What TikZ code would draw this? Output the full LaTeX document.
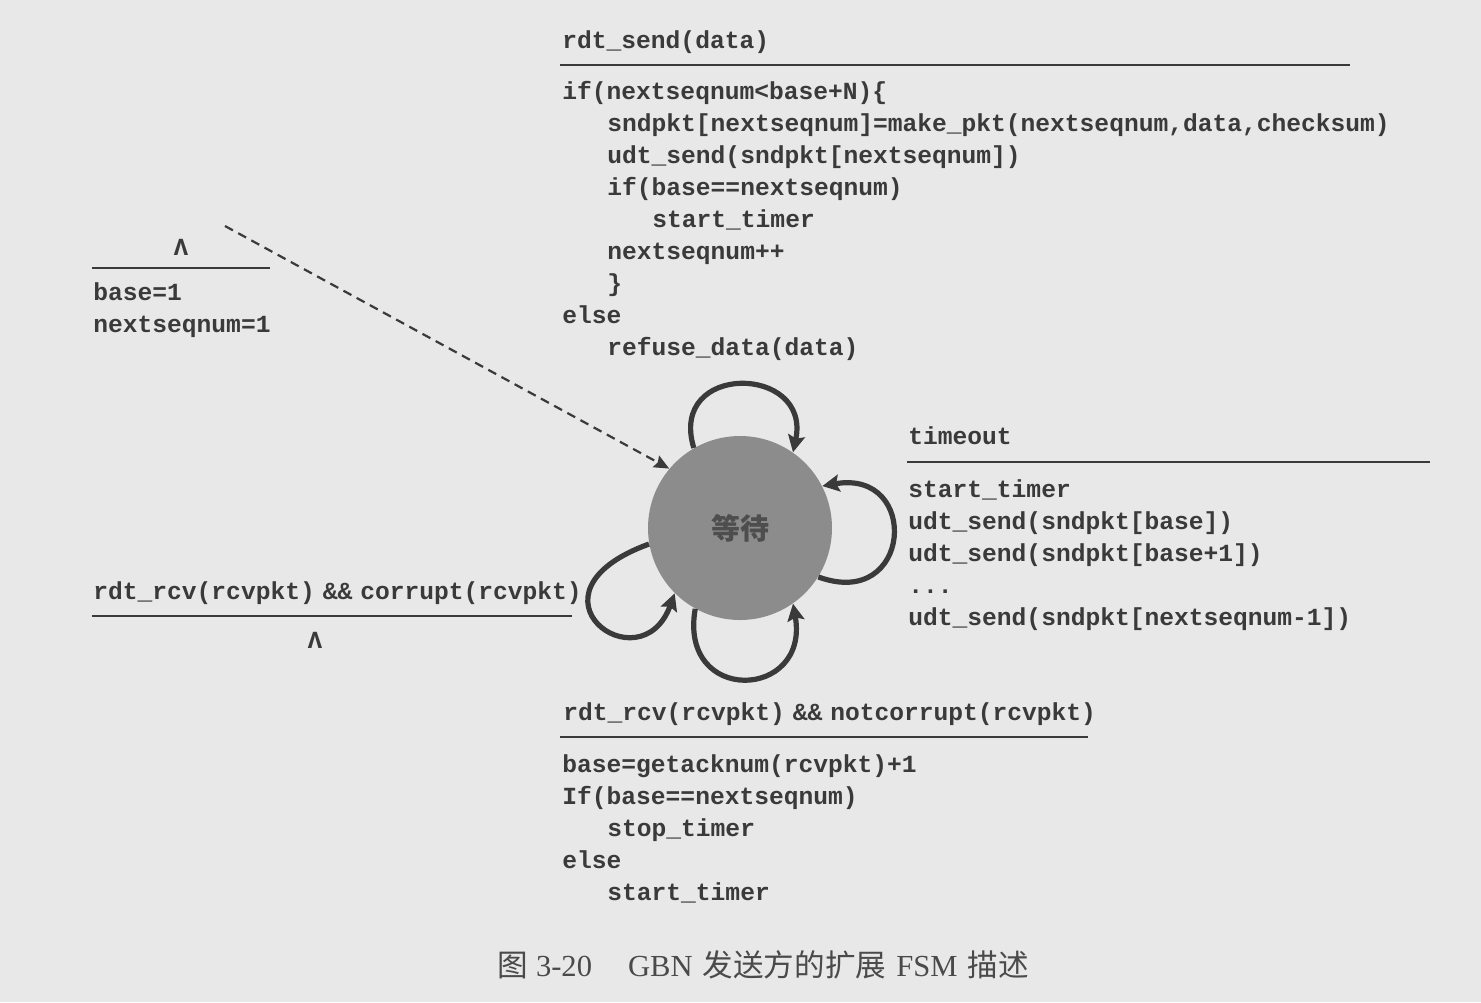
\documentclass[tikz,border=0pt]{standalone}
\usepackage{fontspec}
\usetikzlibrary{arrows.meta}
\newfontfamily\codefont{Liberation Mono}
\newfontfamily\cjk{Noto Sans CJK SC}
\newfontfamily\capserif{Liberation Serif}
\definecolor{paper}{HTML}{E8E8E8}
\definecolor{ink}{HTML}{3A3A3A}
\definecolor{statefill}{HTML}{8C8C8C}
\definecolor{captionink}{HTML}{4A4A4A}
\tikzset{
  code/.style={font=\codefont\bfseries\fontsize{12.3}{16}\selectfont, text=ink, inner sep=0pt, anchor=base west},
  lambda/.style={code, anchor=base},
  guard/.style={draw=ink, line width=1.4pt},
  selfloop/.style={draw=ink, line width=2.6pt, -{Stealth[length=8.5pt,width=8.5pt,inset=1.5pt]}},
  initarrow/.style={draw=ink, line width=1.1pt, dash pattern=on 4.5pt off 3pt, -{Stealth[length=7.5pt,width=6.5pt,inset=1pt]}}
}
\begin{document}
\begin{tikzpicture}[x=0.5pt,y=-0.5pt]
  \fill[paper] (0,0) rectangle (1481,1002);
  \useasboundingbox (0,0) rectangle (1481,1002);

  % the single state
  \node[circle, fill=statefill, minimum size=92pt, inner sep=0pt,
        font=\cjk\bfseries\fontsize{14.5}{16}\selectfont, text=ink!90] (w) at (740,528) {等待};

  % rdt_send(data)
  \node[code] (s0) at (562,48) {rdt\_send(data)};
  \draw[guard] (560,65) -- (1350,65);
  \node[code] (s1) at (562,99)  {if(nextseqnum<base+N)\{};
  \node[code] (s2) at (607,131) {sndpkt[nextseqnum]=make\_pkt(nextseqnum,data,checksum)};
  \node[code] (s3) at (607,163) {udt\_send(sndpkt[nextseqnum])};
  \node[code] (s4) at (607,195) {if(base==nextseqnum)};
  \node[code] (s5) at (652,227) {start\_timer};
  \node[code] (s6) at (607,259) {nextseqnum++};
  \node[code] (s7) at (607,291) {\}};
  \node[code] (s8) at (562,323) {else};
  \node[code] (s9) at (607,355) {refuse\_data(data)};

  % initial transition
  \node[lambda] (i0) at (181,255) {Λ};
  \draw[guard] (92,268) -- (270,268);
  \node[code] (i1) at (93,300) {base=1};
  \node[code] (i2) at (93,332) {nextseqnum=1};
  \coordinate (init) at (225,226);
  \draw[initarrow] (init) -- (w.140);

  % corrupt ACK
  \node[code] (c0) at (93,599) {rdt\_rcv(rcvpkt)\hspace{4pt}\&\&\hspace{4pt}corrupt(rcvpkt)};
  \draw[guard] (92,616) -- (572,616);
  \node[lambda] (c1) at (315,648) {Λ};

  % timeout
  \node[code] (t0) at (908,444) {timeout};
  \draw[guard] (907,462) -- (1430,462);
  \node[code] (t1) at (908,497) {start\_timer};
  \node[code] (t2) at (908,529) {udt\_send(sndpkt[base])};
  \node[code] (t3) at (908,561) {udt\_send(sndpkt[base+1])};
  \node[code] (t4) at (908,593) {...};
  \node[code] (t5) at (908,625) {udt\_send(sndpkt[nextseqnum-1])};

  % good ACK
  \node[code] (a0) at (563,720) {rdt\_rcv(rcvpkt)\hspace{4pt}\&\&\hspace{4pt}notcorrupt(rcvpkt)};
  \draw[guard] (560,737) -- (1088,737);
  \node[code] (a1) at (562,772) {base=getacknum(rcvpkt)+1};
  \node[code] (a2) at (562,804) {If(base==nextseqnum)};
  \node[code] (a3) at (607,836) {stop\_timer};
  \node[code] (a4) at (562,868) {else};
  \node[code] (a5) at (607,900) {start\_timer};

  % self loops
  \draw[selfloop] (w.120) .. controls +(107:45pt) and +(78:45pt) .. (w.55);
  \draw[selfloop] (w.-32) .. controls +(-20:50pt) and +(10:50pt) .. (w.27);
  \draw[selfloop] (w.-119) .. controls +(-100:49pt) and +(-80:49pt) .. (w.-55);
  \draw[selfloop] (w.190) .. controls +(200:72pt) and +(250:50pt) .. (w.225);

  % caption
  \node[anchor=base west, inner sep=0pt, text=captionink, font=\fontsize{15.3}{18}\selectfont] (cap) at (497,976)
    {{\cjk 图}\hspace{4pt}{\capserif 3-20}\hspace{18pt}{\capserif GBN}\hspace{5pt}{\cjk 发送方的扩展}\hspace{5pt}{\capserif FSM}\hspace{5pt}{\cjk 描述}};
\end{tikzpicture}
\end{document}
